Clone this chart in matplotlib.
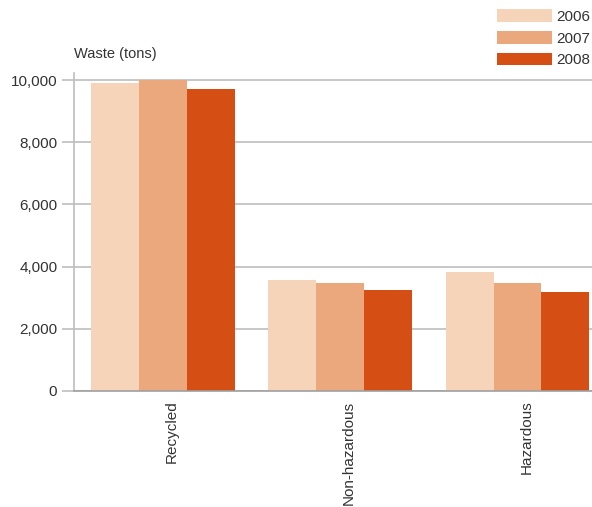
import numpy as np
import matplotlib.pyplot as plt

# Waste by category and year
categories = ['Recycled', 'Non-hazardous', 'Hazardous']
years = ['2006', '2007', '2008']
waste_2006 = [9900, 3570, 3830]
waste_2007 = [10020, 3460, 3460]
waste_2008 = [9710, 3250, 3170]
colors = ['#F5D4BA', '#EBA87D', '#D54F15']

plt.rcParams['font.family'] = ['Liberation Sans', 'DejaVu Sans']

fig = plt.figure(figsize=(5.92, 5.07), dpi=100)
ax = fig.add_axes([0.125, 0.229, 0.875, 0.627])

x = np.arange(len(categories))
w = 0.27
for i, (vals, yr) in enumerate(zip([waste_2006, waste_2007, waste_2008], years)):
    ax.bar(x + (i - 1) * w, vals, width=w, color=colors[i], label=yr, zorder=3)

ax.set_xlim(-0.5, 2.42)
ax.set_ylim(0, 10230)
ax.set_yticks([0, 2000, 4000, 6000, 8000, 10000])
ax.set_yticklabels(['0', '2,000', '4,000', '6,000', '8,000', '10,000'])
ax.set_xticks(x + 0.05)
ax.set_xticklabels(categories, rotation=90, va='top')

ax.grid(axis='y', color='#BDBDBD', lw=1.2, zorder=0)
ax.tick_params(axis='y', length=9, color='#BDBDBD', width=1.2, labelsize=11, colors='#333333', pad=3)
ax.tick_params(axis='x', length=0, labelsize=11, colors='#333333', pad=7)
for s in ['top', 'right']:
    ax.spines[s].set_visible(False)
ax.spines['left'].set_color('#BDBDBD')
ax.spines['left'].set_linewidth(1.2)
ax.spines['bottom'].set_color('#A0A0A0')
ax.spines['bottom'].set_linewidth(1.2)
ax.spines['bottom'].set_zorder(4)

fig.text(0.125, 0.893, 'Waste (tons)', fontsize=10.5, color='#333333', va='center')

fig.legend(loc='upper right', bbox_to_anchor=(1.006, 0.992), frameon=False,
           fontsize=11, handlelength=3.6, handleheight=0.92,
           labelspacing=0.45, handletextpad=0.3, borderpad=0.25,
           borderaxespad=0.1, labelcolor='#333333')

fig.savefig('out.png', dpi=100)
